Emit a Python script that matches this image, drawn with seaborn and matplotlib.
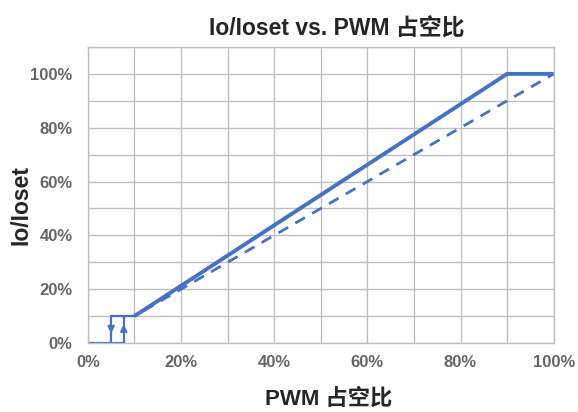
import numpy as np
import pandas as pd
import matplotlib
matplotlib.use("Agg")
import matplotlib.pyplot as plt
import matplotlib.ticker as mticker
import seaborn as sns

# data (duty cycle %, Io/Ioset %)
main_duty = [0, 7.7, 7.7, 10, 90, 100]
main_io = [0, 0, 10, 10, 100, 100]
hyst_duty = [7.7, 5, 5]
hyst_io = [10, 10, 0]
ideal_duty = [12, 100]
ideal_io = [12, 100]
xticks = [0, 20, 40, 60, 80, 100]
yticks = [0, 20, 40, 60, 80, 100]

BLUE = '#4472c4'
GRID = '#c0c0c0'
TICK = '#666666'

sns.set_style('white')
plt.rcParams['font.family'] = ['Liberation Sans', 'Noto Sans CJK SC', 'DejaVu Sans']

fig = plt.figure(figsize=(5.78, 4.12), dpi=100)
ax = fig.add_axes([0.152, 0.1675, 0.806, 0.7185])

ax.set_xlim(0, 100)
ax.set_ylim(0, 110)
ax.xaxis.set_major_locator(mticker.FixedLocator(xticks))
ax.xaxis.set_minor_locator(mticker.MultipleLocator(10))
ax.yaxis.set_major_locator(mticker.FixedLocator(yticks))
ax.yaxis.set_minor_locator(mticker.MultipleLocator(10))
ax.grid(True, which='both', color=GRID, lw=1)
ax.set_axisbelow(True)
for s in ax.spines.values():
    s.set_color(GRID)
    s.set_linewidth(1)

df_main = pd.DataFrame({'duty': main_duty, 'io': main_io})
df_hyst = pd.DataFrame({'duty': hyst_duty, 'io': hyst_io})
df_ideal = pd.DataFrame({'duty': ideal_duty, 'io': ideal_io})

sns.lineplot(data=df_ideal, x='duty', y='io', sort=False, estimator=None, ax=ax,
             color=BLUE, lw=2, linestyle=(0, (4, 3)))
sns.lineplot(data=df_main.iloc[3:], x='duty', y='io', sort=False, estimator=None, ax=ax,
             color=BLUE, lw=2.8, solid_capstyle='butt')
sns.lineplot(data=df_main.iloc[:4], x='duty', y='io', sort=False, estimator=None, ax=ax,
             color=BLUE, lw=1.6)
sns.lineplot(data=df_hyst, x='duty', y='io', sort=False, estimator=None, ax=ax,
             color=BLUE, lw=1.6)

# hysteresis arrows
ax.annotate('', xy=(hyst_duty[1], 2.5), xytext=(hyst_duty[1], 7),
            arrowprops=dict(arrowstyle='-|>', color=BLUE, lw=1.4, mutation_scale=10))
ax.annotate('', xy=(main_duty[1], 8), xytext=(main_duty[1], 3),
            arrowprops=dict(arrowstyle='-|>', color=BLUE, lw=1.4, mutation_scale=10))

ax.xaxis.set_major_formatter(mticker.FuncFormatter(lambda v, _: f'{v:.0f}%'))
ax.yaxis.set_major_formatter(mticker.FuncFormatter(lambda v, _: f'{v:.0f}%'))
ax.tick_params(axis='y', which='both', length=0, pad=11, labelsize=12, colors=TICK)
ax.tick_params(axis='x', which='both', length=0, pad=9, labelsize=12, colors=TICK)
for lab in ax.get_xticklabels() + ax.get_yticklabels():
    lab.set_fontweight('bold')

ax.set_title('Io/Ioset vs. PWM 占空比', fontsize=16.5, fontweight='bold', pad=8, x=0.534)
ax.set_xlabel('PWM 占空比', fontsize=16, fontweight='bold')
ax.xaxis.set_label_coords(0.517, -0.155)
ax.set_ylabel('Io/Ioset', fontsize=16.5, fontweight='bold')
ax.yaxis.set_label_coords(-0.118, 0.466)

fig.savefig('out.png', dpi=100)
